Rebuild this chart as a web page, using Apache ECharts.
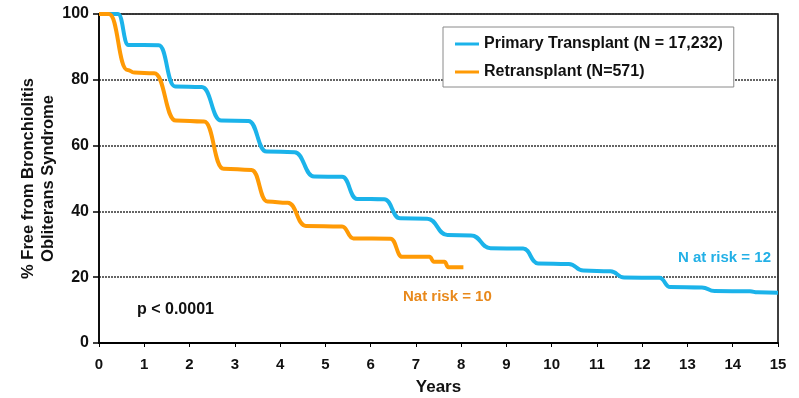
<!DOCTYPE html>
<html>
<head>
<meta charset="utf-8">
<script src="https://cdn.jsdelivr.net/npm/echarts@6/dist/echarts.min.js"></script>
<style>
html,body{margin:0;padding:0;background:#fff;}
#chart{width:799px;height:398px;}
</style>
</head>
<body>
<div id="chart"></div>
<script>
// ---- Data ----
var primaryName = 'Primary Transplant (N = 17,232)';
var retxName = 'Retransplant (N=571)';

var primaryYears = [0,0.42,0.65,1.32,1.68,2.27,2.7,3.3,3.7,4.32,4.75,5.37,5.7,6.3,6.65,7.25,7.7,8.22,8.65,9.37,9.7,10.38,10.7,11.3,11.6,12.38,12.62,13.32,13.6,14.38,14.55,15];
var primaryFree  = [100,100,90.6,90.5,78,77.8,67.6,67.5,58.2,58,50.6,50.5,43.8,43.7,37.9,37.8,32.8,32.7,28.8,28.7,24.2,24,22,21.8,19.9,19.8,17,16.9,15.8,15.7,15.4,15.3];

var retxYears = [0,0.22,0.63,0.78,1.22,1.7,2.32,2.75,3.37,3.72,4.17,4.57,5.37,5.62,6.44,6.7,7.3,7.4,7.63,7.72,8.05];
var retxFree  = [100,100,83,82.2,82,67.6,67.3,53,52.6,43,42.6,35.6,35.4,31.8,31.7,26.2,26.2,24.7,24.7,23,23];

var yTicks = [0,20,40,60,80,100];
var xTicks = [0,1,2,3,4,5,6,7,8,9,10,11,12,13,14,15];

var annotations = {
  pValue: 'p < 0.0001',
  primaryRisk: 'N at risk = 12',
  retxRisk: 'Nat risk = 10'
};

function zip(xs, ys){ var out=[]; for(var i=0;i<xs.length;i++){ out.push([xs[i], ys[i]]); } return out; }

var FONT = '"Liberation Sans", Arial, sans-serif';
var BLUE = '#1BB3EA';
var ORANGE = '#FF9A05';

var chart = echarts.init(document.getElementById('chart'), null, {renderer:'canvas'});
chart.setOption({
  animation:false,
  backgroundColor:'#fff',
  grid:{left:99, right:21, top:14, bottom:55, containLabel:false, outerBoundsMode:'none',
        show:true, borderColor:'#000', borderWidth:1.5, backgroundColor:'transparent'},
  legend:{
    orient:'vertical', left:443, top:27,
    padding:[9,11,7,12], itemGap:12,
    backgroundColor:'#fff', borderColor:'#8a8a8a', borderWidth:1,
    icon:'rect', itemWidth:24, itemHeight:3,
    textStyle:{fontFamily:FONT, fontWeight:'bold', fontSize:16, color:'#111'},
    data:[primaryName, retxName]
  },
  xAxis:{
    type:'value', min:xTicks[0], max:xTicks[xTicks.length-1], interval:1,
    name:'Years', nameLocation:'middle', nameGap:36, nameMoveOverlap:false,
    nameTextStyle:{fontFamily:FONT, fontWeight:'bold', fontSize:17, color:'#111'},
    axisLine:{show:true, lineStyle:{color:'#000', width:2}},
    axisTick:{show:true, length:4, lineStyle:{color:'#000', width:1}},
    axisLabel:{fontFamily:FONT, fontWeight:'bold', fontSize:15, color:'#111', margin:14},
    splitLine:{show:false}
  },
  yAxis:{
    type:'value', min:yTicks[0], max:yTicks[yTicks.length-1], interval:20,
    name:'% Free from Bronchiolitis\nObliterans Syndrome', nameLocation:'middle', nameRotate:90, nameGap:41,
    nameMoveOverlap:false,
    nameTextStyle:{fontFamily:FONT, fontWeight:'bold', fontSize:16.5, lineHeight:20, color:'#111', align:'center'},
    axisLine:{show:true, lineStyle:{color:'#000', width:1.5}},
    axisTick:{show:true, length:6, lineStyle:{color:'#000', width:1.5}},
    axisLabel:{fontFamily:FONT, fontWeight:'bold', fontSize:16, color:'#111', margin:10},
    splitLine:{show:true, lineStyle:{color:'#333', width:1.5, type:[2,1]}}
  },
  series:[
    {name:primaryName, type:'line', data:zip(primaryYears, primaryFree), showSymbol:false, symbol:'none',
     smooth:0.5, smoothMonotone:'x', lineStyle:{color:BLUE, width:4}, itemStyle:{color:BLUE}, z:3},
    {name:retxName, type:'line', data:zip(retxYears, retxFree), showSymbol:false, symbol:'none',
     smooth:0.5, smoothMonotone:'x', lineStyle:{color:ORANGE, width:4}, itemStyle:{color:ORANGE}, z:4}
  ],
  graphic:[
    {type:'text', left:137, top:302, style:{text:annotations.pValue, fill:'#111', font:'bold 16px "Liberation Sans", Arial, sans-serif'}},
    {type:'text', left:678, top:250, style:{text:annotations.primaryRisk, fill:'#23B0E6', font:'bold 15px "Liberation Sans", Arial, sans-serif'}},
    {type:'text', left:403, top:289, style:{text:annotations.retxRisk, fill:'#E8891C', font:'bold 15px "Liberation Sans", Arial, sans-serif'}}
  ]
});
</script>
</body>
</html>
